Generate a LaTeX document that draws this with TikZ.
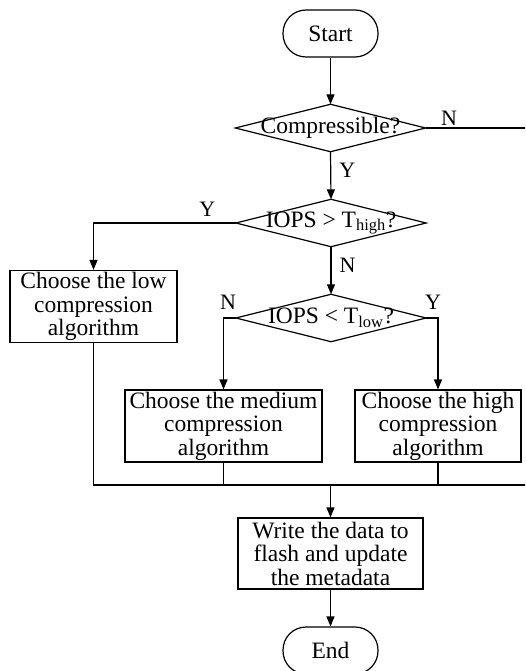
\documentclass[tikz,border=0pt]{standalone}
\usepackage{fontspec}
\setmainfont{Liberation Serif}
\usetikzlibrary{arrows.meta}
\begin{document}
\begin{tikzpicture}[x=1pt,y=-1pt,
  every node/.style={font=\fontsize{23.5}{23.5}\selectfont, inner sep=0pt},
  terminal/.style={draw, line width=1.2pt, rounded corners=23pt, minimum width=95pt, minimum height=47pt},
  procbox/.style={draw, line width=1.2pt, minimum height=72pt, align=center},
  decision/.style={minimum width=190pt, minimum height=47pt},
  link/.style={line width=1.2pt},
  flow/.style={link, -{Triangle[length=10pt,width=8pt]}},
  branch/.style={font=\fontsize{22}{22}\selectfont}]
\clip (0,0) rectangle (525,671);
\fill[white] (0,0) rectangle (525,671);

% nodes
\node[terminal] (start) at (330.5,33.5) {Start};
\node[decision] (comp) at (330.5,128) {Compressible?};
\node[decision] (thigh) at (331,223) {IOPS > T\textsubscript{high}?};
\node[decision] (tlow) at (331,318) {IOPS < T\textsubscript{low}?};
\node[procbox, minimum width=167pt] (low) at (93.5,306.5) {Choose the low\\compression\\algorithm};
\node[procbox, minimum width=197pt] (med) at (223.5,426) {Choose the medium\\compression\\algorithm};
\node[procbox, minimum width=166pt] (hi) at (438,426) {Choose the high\\compression\\algorithm};
\node[procbox, minimum width=185pt, minimum height=71pt] (write) at (330.5,553.5) {Write the data to\\flash and update\\the metadata};
\node[terminal] (end) at (330.5,650.5) {End};

% diamond outlines
\foreach \d in {comp,thigh,tlow}
  \draw[line width=1.2pt] (\d.west) -- (\d.north) -- (\d.east) -- (\d.south) -- cycle;

% merge points
\coordinate (m) at (330.5,485);
\coordinate (mr) at (532,485);
\coordinate (nr) at (532,128);

% connectors
\draw[flow] (start) -- (comp.north);
\draw[flow] (comp.south) -- node[branch, right=8pt, pos=0.4] {Y} (thigh.north);
\draw[link] (comp.east) -- node[branch, above=2pt, pos=0.22] {N} (nr) -- (mr);
\draw[flow] (thigh.west) -- node[branch, above=6pt, pos=0.2] {Y} (thigh.west -| low.north) -- (low.north);
\draw[flow] (thigh.south) -- node[branch, right=8pt, pos=0.4] {N} (tlow.north);
\draw[flow] (tlow.west) -- (tlow.west -| med.north) -- (med.north);
\draw[flow] (tlow.east) -- (tlow.east -| hi.north) -- (hi.north);
\node[branch] (nlow) at (228,302) {N};
\node[branch] (ylow) at (433,302) {Y};
\draw[link] (low.south) -- (low.south |- m) -- (mr);
\draw[link] (med.south) -- (med.south |- m);
\draw[link] (hi.south) -- (hi.south |- m);
\draw[flow] (m) -- (write.north);
\draw[flow] (write.south) -- (end.north);
\end{tikzpicture}
\end{document}
